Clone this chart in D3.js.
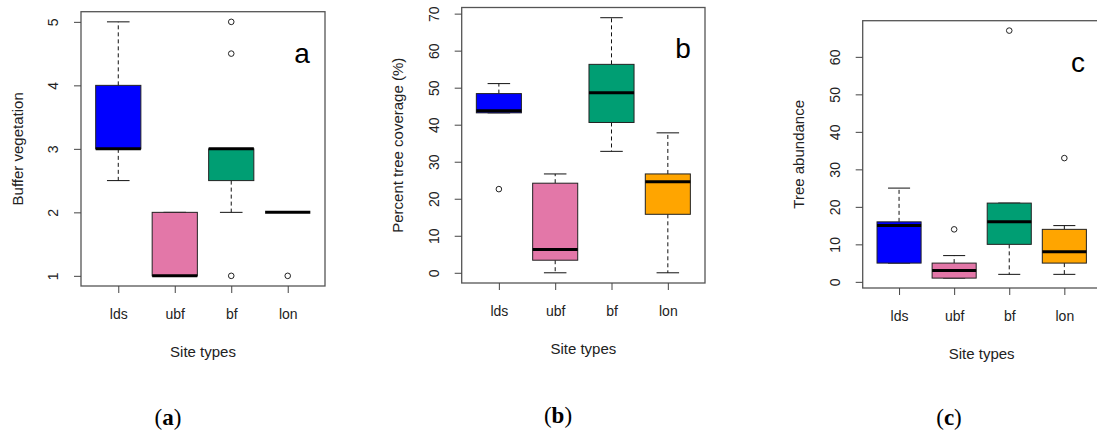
<!DOCTYPE html>
<html><head><meta charset="utf-8">
<script src="https://cdn.jsdelivr.net/npm/d3@7"></script>
<style>body{margin:0;background:#fff}svg{display:block}</style>
</head><body>
<svg id="chart" width="1097" height="432"></svg>
<script>
// ---- data ----
const categories = ["lds", "ubf", "bf", "lon"];
const boxColors = ["#0000FF", "#E377A8", "#009E73", "#FFA500"];

// [lower whisker, Q1, median, Q3, upper whisker]
const bufferStats = [[2.5, 3, 3, 4, 5], [1, 1, 1, 2, 2], [2, 2.5, 3, 3, 3], [2, 2, 2, 2, 2]];
const bufferOutliers = [[], [], [5, 4.5, 1], [1]];
const bufferTicks = [1, 2, 3, 4, 5];

const coverageStats = [[43.2, 43.2, 43.8, 48.4, 51.1], [0, 3.4, 6.3, 24.2, 26.7], [32.8, 40.6, 48.6, 56.3, 68.9], [0, 15.8, 24.6, 26.7, 37.8]];
const coverageOutliers = [[22.6], [], [], []];
const coverageTicks = [0, 10, 20, 30, 40, 50, 60, 70];

const abundanceStats = [[5, 5, 15, 16, 25], [1, 1, 3, 5, 7], [2, 10, 16, 21, 21], [2, 5, 8, 14, 15]];
const abundanceOutliers = [[], [14], [67], [33]];
const abundanceTicks = [0, 10, 20, 30, 40, 50, 60];

const yTitles = ["Buffer vegetation", "Percent tree coverage (%)", "Tree abundance"];
const panelTags = ["a", "b", "c"];
const xTitle = "Site types";

// ---- layout ----
const panels = [
  {stats: bufferStats, outliers: bufferOutliers, ticks: bufferTicks, left: 81, right: 325, top: 11.7, bottom: 286, tagX: 302, tagY: 53, capX: 168, capY: 417},
  {stats: coverageStats, outliers: coverageOutliers, ticks: coverageTicks, left: 461.7, right: 705, top: 7.5, bottom: 283, tagX: 683, tagY: 48, capX: 558, capY: 415},
  {stats: abundanceStats, outliers: abundanceOutliers, ticks: abundanceTicks, left: 862.7, right: 1100.7, top: 20.7, bottom: 288, tagX: 1078, tagY: 62, capX: 949, capY: 417}
];

const svg = d3.select("#chart");
const sans = "'Liberation Sans', Arial, sans-serif";
const textCol = "#222";

panels.forEach((p, pi) => {
  const g = svg.append("g");
  const allVals = p.stats.flat().concat(p.outliers.flat());
  const lo = d3.min(allVals), hi = d3.max(allVals), pad = (hi - lo) * 0.04;
  const y = d3.scaleLinear().domain([lo - pad, hi + pad]).range([p.bottom, p.top]);
  const x = d3.scaleLinear().domain([0.34, 4.66]).range([p.left, p.right]);
  const unit = x(2) - x(1);
  const bw = 0.8 * unit, cw = 0.4 * unit;

  // boxes
  p.stats.forEach((s, i) => {
    const cx = x(i + 1);
    const [wl, q1, med, q3, wh] = s;
    const bg = g.append("g");
    if (wh > q3) bg.append("line").attr("x1", cx).attr("x2", cx).attr("y1", y(q3)).attr("y2", y(wh))
      .attr("stroke", "#111").attr("stroke-width", 1).attr("stroke-dasharray", "4,3");
    if (wl < q1) bg.append("line").attr("x1", cx).attr("x2", cx).attr("y1", y(q1)).attr("y2", y(wl))
      .attr("stroke", "#111").attr("stroke-width", 1).attr("stroke-dasharray", "4,3");
    [wl, wh].forEach(v => bg.append("line").attr("x1", cx - cw / 2).attr("x2", cx + cw / 2)
      .attr("y1", y(v)).attr("y2", y(v)).attr("stroke", "#111").attr("stroke-width", 1));
    bg.append("rect").attr("x", cx - bw / 2).attr("width", bw)
      .attr("y", y(q3)).attr("height", Math.max(0, y(q1) - y(q3)))
      .attr("fill", boxColors[i]).attr("stroke", "#222").attr("stroke-width", 1);
    bg.append("line").attr("x1", cx - bw / 2).attr("x2", cx + bw / 2)
      .attr("y1", y(med)).attr("y2", y(med)).attr("stroke", "#000").attr("stroke-width", 3);
    p.outliers[i].forEach(v => bg.append("circle").attr("cx", cx).attr("cy", y(v)).attr("r", 2.8)
      .attr("fill", "none").attr("stroke", "#222").attr("stroke-width", 1));
  });

  g.append("rect").attr("x", p.left).attr("y", p.top).attr("width", p.right - p.left).attr("height", p.bottom - p.top)
    .attr("fill", "none").attr("stroke", "#555").attr("stroke-width", 1.3);

  const ya = g.append("g").attr("transform", `translate(${p.left},0)`)
    .call(d3.axisLeft(y).tickValues(p.ticks).tickSize(7).tickFormat(d3.format("d")));
  ya.select(".domain").remove();
  ya.selectAll(".tick line").attr("stroke", "#444").attr("stroke-width", 1);
  ya.selectAll(".tick text").attr("x", null).attr("dy", null)
    .attr("transform", "translate(-28,0) rotate(-90)")
    .attr("text-anchor", "middle").attr("dominant-baseline", "central")
    .attr("font-family", sans).attr("font-size", 14).attr("fill", textCol);

  const xa = g.append("g").attr("transform", `translate(0,${p.bottom})`)
    .call(d3.axisBottom(x).tickValues([1, 2, 3, 4]).tickSize(7).tickFormat(d => categories[d - 1]));
  xa.select(".domain").remove();
  xa.selectAll(".tick line").attr("stroke", "#444").attr("stroke-width", 1);
  xa.selectAll(".tick text").attr("y", 28).attr("dy", null).attr("dominant-baseline", "central")
    .attr("font-family", sans).attr("font-size", 14).attr("fill", textCol);

  const midY = (p.top + p.bottom) / 2;
  g.append("text").attr("transform", `translate(${p.left - 64},${midY}) rotate(-90)`)
    .attr("text-anchor", "middle").attr("dominant-baseline", "central")
    .attr("font-family", sans).attr("font-size", 15).attr("fill", textCol).text(yTitles[pi]);
  const midX = (x(1) + x(4)) / 2;
  g.append("text").attr("x", midX).attr("y", p.bottom + 65)
    .attr("text-anchor", "middle").attr("dominant-baseline", "central")
    .attr("font-family", sans).attr("font-size", 15).attr("fill", textCol).text(xTitle);

  g.append("text").attr("x", p.tagX).attr("y", p.tagY)
    .attr("text-anchor", "middle").attr("dominant-baseline", "central")
    .attr("font-family", sans).attr("font-size", 28).attr("fill", "#000").text(panelTags[pi]);

  const cap = g.append("text").attr("x", p.capX).attr("y", p.capY)
    .attr("text-anchor", "middle").attr("dominant-baseline", "central")
    .attr("font-family", "'Liberation Serif', 'DejaVu Serif', serif").attr("font-size", 23).attr("fill", "#000");
  cap.append("tspan").text("(");
  cap.append("tspan").attr("font-weight", "bold").text(panelTags[pi]);
  cap.append("tspan").text(")");
});
</script>
</body></html>
